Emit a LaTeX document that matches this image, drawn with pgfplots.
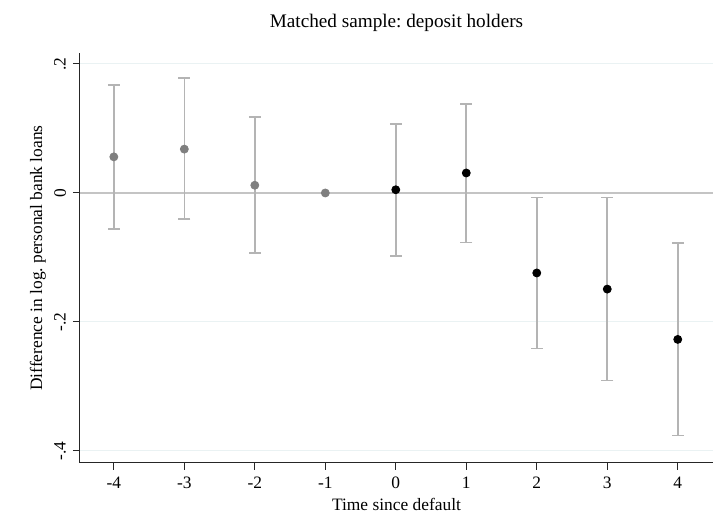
\documentclass[border=0pt]{standalone}
\usepackage{pgfplots}
\pgfplotsset{compat=1.18}
\usepackage{pgfplotstable}
\usepackage{fontspec}
\setmainfont{Liberation Serif}
\frenchspacing
\definecolor{gridc}{HTML}{EAF2F3}
\definecolor{zeroc}{HTML}{C4C4C4}
\definecolor{barc}{HTML}{B4B4B4}
\definecolor{prec}{HTML}{7F7F7F}
\pgfplotstableread{
x y ep em
-4 0.056 0.111 0.112
-3 0.068 0.110 0.108
-2 0.012 0.106 0.105
}\pre
\pgfplotstableread{
x y
-1 0
}\ref
\pgfplotstableread{
x y ep em
0 0.005 0.102 0.103
1 0.031 0.107 0.108
2 -0.124 0.117 0.117
3 -0.149 0.142 0.142
4 -0.227 0.149 0.149
}\post
\begin{document}
\frenchspacing
\begin{tikzpicture}
\useasboundingbox (0,0) rectangle (360pt,265pt);
\begin{axis}[
  at={(40pt,33.5pt)}, anchor=south west,
  scale only axis, width=316.5pt, height=205pt,
  xmin=-4.48, xmax=4.5, ymin=-0.4186, ymax=0.217,
  axis x line*=bottom, axis y line*=left,
  axis line style={black!85, line width=0.5pt},
  tick align=outside, major tick length=3.5pt,
  tick style={black!85, line width=0.5pt},
  xtick={-4,-3,-2,-1,0,1,2,3,4},
  xticklabels={-4,-3,-2,-1,0,1,2,3,4},
  ytick={-0.4,-0.2,0,0.2},
  yticklabels={-.4,-.2,0,.2},
  yticklabel style={rotate=90, anchor=south, font=\fontsize{8.7}{10}\selectfont},
  xticklabel style={font=\fontsize{8.7}{10}\selectfont},
  ymajorgrids, grid style={gridc, line width=0.5pt},
  xlabel={Time since default},
  ylabel={Difference in log.\ personal bank loans},
  label style={font=\fontsize{8.7}{10}\selectfont},
  xlabel style={at={(0.5,0)}, anchor=north, yshift=-14pt},
  ylabel style={at={(axis description cs:-0.0664,0.5)}, anchor=center},
  title={Matched sample:\ deposit holders},
  title style={font=\fontsize{9.6}{11}\selectfont, at={(0.5,1)}, anchor=south, yshift=1pt},
  clip=false,
]
\addplot[zeroc, line width=0.75pt, mark=none] coordinates {(-4.48,0) (4.5,0)};
\addplot[draw=none, mark=none, forget plot,
  error bars/.cd, y dir=both, y explicit,
  error bar style={barc, line width=0.8pt},
  error mark options={barc, line width=0.8pt, mark size=3pt, rotate=90}]
  table[x=x, y=y, y error plus=ep, y error minus=em] {\pre};
\addplot[draw=none, mark=none, forget plot,
  error bars/.cd, y dir=both, y explicit,
  error bar style={barc, line width=0.8pt},
  error mark options={barc, line width=0.8pt, mark size=3pt, rotate=90}]
  table[x=x, y=y, y error plus=ep, y error minus=em] {\post};
\addplot[only marks, mark=*, mark size=2pt, prec, mark options={draw=prec, fill=prec}] table[x=x,y=y] {\pre};
\addplot[only marks, mark=*, mark size=2pt, prec, mark options={draw=prec, fill=prec}] table[x=x,y=y] {\ref};
\addplot[only marks, mark=*, mark size=2pt, black, mark options={draw=black, fill=black}] table[x=x,y=y] {\post};
\end{axis}
\end{tikzpicture}
\end{document}
